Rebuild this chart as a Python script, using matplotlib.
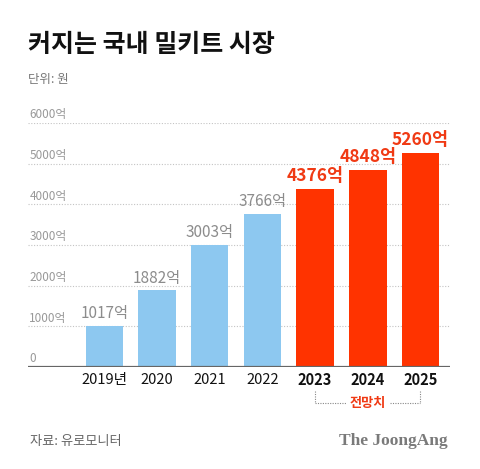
import matplotlib
matplotlib.use("Agg")
import matplotlib.pyplot as plt
import matplotlib.transforms as mtransforms

plt.rcParams['font.family'] = ['Noto Sans CJK KR', 'DejaVu Sans']

years = ["2019년", "2020", "2021", "2022", "2023", "2024", "2025"]
values = [1017, 1882, 3003, 3766, 4376, 4848, 5260]
forecast = [False, False, False, False, True, True, True]
yticks = [0, 1000, 2000, 3000, 4000, 5000, 6000]
ytick_labels = ["0", "1000억", "2000억", "3000억", "4000억", "5000억", "6000억"]

BLUE = "#8DC8F0"
RED = "#FF3300"
RED_TXT = "#F03A14"
GRAY = "#8C8C8C"

W, H = 480, 469
fig = plt.figure(figsize=(W / 100, H / 100), dpi=100)
ax = fig.add_axes([28 / W, 1 - 367 / H, (450 - 28) / W, (367 - 123) / H])

x = list(range(len(years)))
colors = [RED if f else BLUE for f in forecast]
ax.bar(x, values, width=0.71, color=colors, zorder=3)

ax.set_ylim(0, 6000)
ax.set_xlim(-1.45, 6.56)

# gridlines
for t in yticks[1:]:
    ax.axhline(t, color="#C4C4C4", lw=0.8, ls=(0, (1, 1.5)), zorder=1)
ax.axhline(0, color="#666666", lw=1.6, zorder=4)

# y tick labels above gridlines
ytr = mtransforms.blended_transform_factory(ax.transAxes, ax.transData)
for t, lab in zip(yticks, ytick_labels):
    ax.text(0.003, t + 40, lab, transform=ytr,
            ha="left", va="bottom", fontsize=8.5, color="#999999")

for s in ax.spines.values():
    s.set_visible(False)
ax.set_xticks([])
ax.set_yticks([])

# value labels
for xi, v, f in zip(x, values, forecast):
    if f:
        ax.text(xi, v + 90, f"{v}억", ha="center", va="bottom", fontsize=12.5,
                fontweight="bold", color=RED_TXT, zorder=5)
    else:
        ax.text(xi, v + 90, f"{v}억", ha="center", va="bottom", fontsize=11,
                color=GRAY, zorder=5)

# x labels
tr = mtransforms.blended_transform_factory(ax.transData, ax.transAxes)
for xi, lab, f in zip(x, years, forecast):
    ax.text(xi, -0.055, lab, transform=tr, ha="center", va="center", fontsize=10.5,
            fontweight="bold" if f else "normal", color="#111111")

# bracket for forecast
fx = [i for i, f in enumerate(forecast) if f]
x0, x1 = fx[0], fx[-1]
ytop, ybot = -0.10, -0.148
dot = dict(transform=tr, color="#888888", lw=0.8, ls=(0, (1, 1.2)), clip_on=False)
ax.plot([x0, x0], [ytop, ybot], **dot)
ax.plot([x1, x1], [ytop, ybot], **dot)
xm = (x0 + x1) / 2
ax.plot([x0, xm - 0.42], [ybot, ybot], **dot)
ax.plot([xm + 0.42, x1], [ybot, ybot], **dot)
ax.text(xm, ybot, "전망치", transform=tr, ha="center", va="center", fontsize=9.5,
        fontweight="bold", color=RED_TXT)

# titles
fig.text(28 / W, 1 - 45 / H, "커지는 국내 밀키트 시장", ha="left", va="center",
         fontsize=18, fontweight="bold", color="#111111")
fig.text(28 / W, 1 - 80 / H, "단위: 원", ha="left", va="center", fontsize=9, color="#777777")

# footer
fig.text(30 / W, 1 - 441 / H, "자료: 유로모니터", ha="left", va="center", fontsize=9.5, color="#666666")
fig.text(448 / W, 1 - 441 / H, "The JoongAng", ha="right", va="center", fontsize=12.5,
         fontweight="bold", color="#7A7A7A", family=["Liberation Serif", "DejaVu Serif"])

fig.savefig("out.png", dpi=100)
